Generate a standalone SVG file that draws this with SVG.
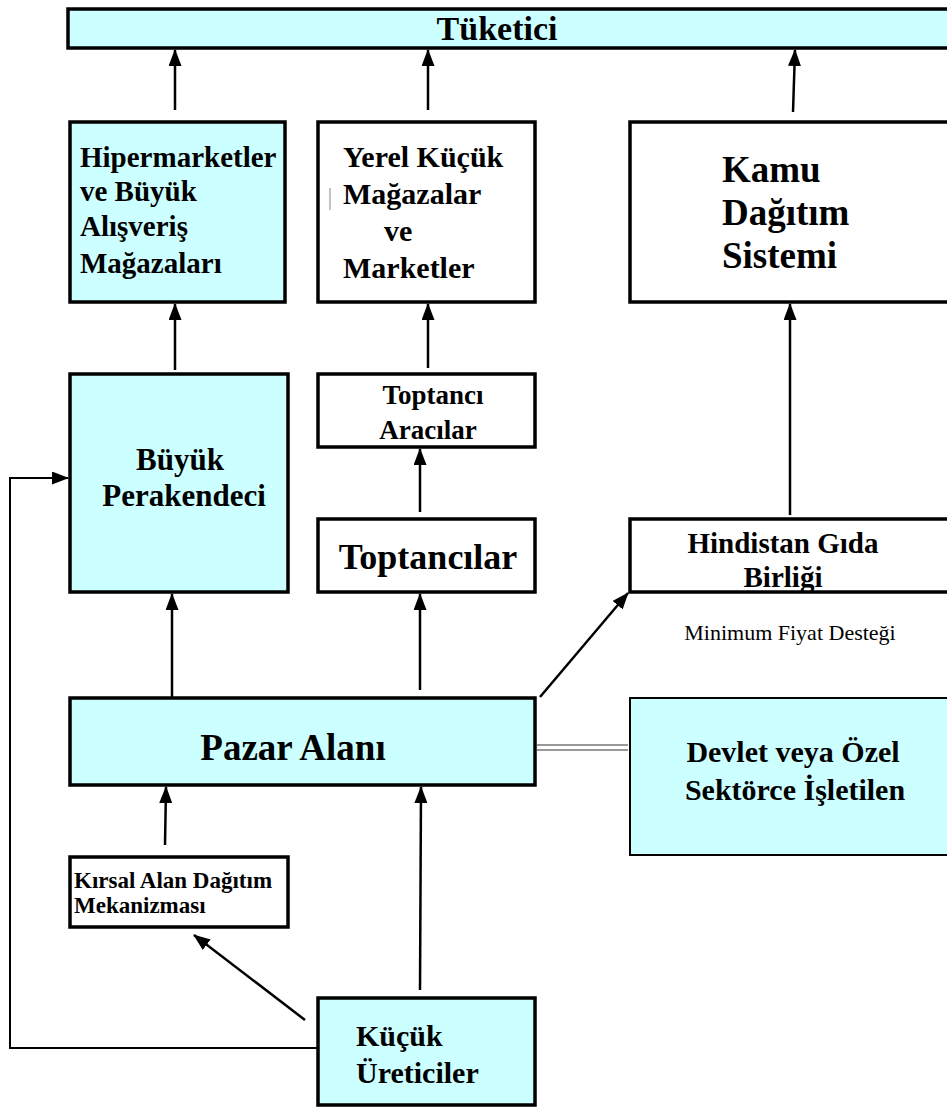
<svg xmlns="http://www.w3.org/2000/svg" width="947" height="1108" viewBox="0 0 947 1108">
<defs>
<style>
.box{stroke:#000;stroke-width:3.5}
.cy{fill:#CCFFFF}
.wh{fill:#fff}
.t{font-family:"Liberation Serif","Times New Roman",serif;font-weight:bold;fill:#000}
.n{font-family:"Liberation Serif","Times New Roman",serif;fill:#000}
.c{stroke:#000;stroke-width:2.5;fill:none}
</style>
<marker id="ah" viewBox="0 0 17 13" refX="16" refY="6.5" markerWidth="17" markerHeight="13" markerUnits="userSpaceOnUse" orient="auto">
<path d="M0,0 L17,6.5 L0,13 Z" fill="#000"/>
</marker>
</defs>
<rect width="947" height="1108" fill="#fff"/>
<g id="connectors">
<line class="c" x1="175" y1="110" x2="175" y2="50" marker-end="url(#ah)"/>
<line class="c" x1="428" y1="110" x2="428" y2="50" marker-end="url(#ah)"/>
<line class="c" x1="793" y1="112" x2="795" y2="50" marker-end="url(#ah)"/>
<line class="c" x1="175" y1="370" x2="175" y2="304" marker-end="url(#ah)"/>
<line class="c" x1="428" y1="368" x2="428" y2="304" marker-end="url(#ah)"/>
<line class="c" x1="790" y1="515" x2="790" y2="304" marker-end="url(#ah)"/>
<line class="c" x1="420" y1="512" x2="420" y2="449" marker-end="url(#ah)"/>
<line class="c" x1="172" y1="697" x2="172" y2="594" marker-end="url(#ah)"/>
<line class="c" x1="420" y1="690" x2="420" y2="594" marker-end="url(#ah)"/>
<line class="c" x1="540" y1="697" x2="628" y2="593" marker-end="url(#ah)"/>
<line class="c" x1="165" y1="845" x2="166" y2="787" marker-end="url(#ah)"/>
<line class="c" x1="420" y1="990" x2="421" y2="787" marker-end="url(#ah)"/>
<line class="c" x1="305" y1="1020" x2="194" y2="935" marker-end="url(#ah)"/>
<polyline points="318,1048 10,1048 10,478 68,478" stroke="#000" stroke-width="2" fill="none" marker-end="url(#ah)"/>
<line x1="537" y1="745" x2="628" y2="745" stroke="#999" stroke-width="2"/>
<line x1="537" y1="750" x2="628" y2="750" stroke="#999" stroke-width="2"/>
</g>
<g id="tuketici">
<rect class="box cy" x="68" y="9" width="885" height="39"/>
<text class="t" x="497" y="40" font-size="34" text-anchor="middle">Tüketici</text>
</g>
<g id="hipermarketler">
<rect class="box cy" x="70" y="122" width="215" height="180"/>
<text class="t" font-size="29"><tspan x="80" y="167">Hipermarketler</tspan><tspan x="80" y="201">ve Büyük</tspan><tspan x="80" y="236">Alışveriş</tspan><tspan x="80" y="273">Mağazaları</tspan></text>
</g>
<g id="yerel">
<rect class="box wh" x="318" y="122" width="217" height="180"/>
<line x1="330" y1="188" x2="330" y2="210" stroke="#888" stroke-width="1"/>
<text class="t" font-size="30"><tspan x="343" y="167">Yerel Küçük</tspan><tspan x="343" y="204">Mağazalar</tspan><tspan x="384" y="241">ve</tspan><tspan x="343" y="278">Marketler</tspan></text>
</g>
<g id="kamu">
<rect class="box wh" x="630" y="122" width="322" height="180"/>
<text class="t" font-size="37"><tspan x="722" y="182">Kamu</tspan><tspan x="722" y="225">Dağıtım</tspan><tspan x="722" y="268">Sistemi</tspan></text>
</g>
<g id="buyuk-perakendeci">
<rect class="box cy" x="70" y="374" width="218" height="218"/>
<text class="t" font-size="31" text-anchor="middle"><tspan x="180" y="470">Büyük</tspan><tspan x="184" y="506">Perakendeci</tspan></text>
</g>
<g id="toptanci-aracilar">
<rect class="box wh" x="318" y="374" width="217" height="73"/>
<text class="t" font-size="27" text-anchor="middle"><tspan x="433" y="404">Toptancı</tspan><tspan x="428" y="439">Aracılar</tspan></text>
</g>
<g id="toptancilar">
<rect class="box wh" x="318" y="519" width="217" height="73"/>
<text class="t" x="428" y="569" font-size="36" text-anchor="middle">Toptancılar</text>
</g>
<g id="hindistan">
<rect class="box wh" x="630" y="519" width="322" height="73"/>
<text class="t" font-size="29" text-anchor="middle"><tspan x="783" y="553">Hindistan Gıda</tspan><tspan x="783" y="587">Birliği</tspan></text>
</g>
<g id="minimum-fiyat">
<text class="n" x="790" y="640" font-size="22" text-anchor="middle">Minimum Fiyat Desteği</text>
</g>
<g id="pazar-alani">
<rect class="box cy" x="70" y="698" width="465" height="87"/>
<text class="t" x="293" y="760" font-size="37" text-anchor="middle">Pazar Alanı</text>
</g>
<g id="devlet">
<rect x="630" y="698" width="322" height="157" fill="#CCFFFF" stroke="#000" stroke-width="2"/>
<text class="t" font-size="30" text-anchor="middle"><tspan x="793" y="762">Devlet veya Özel</tspan><tspan x="795" y="800">Sektörce İşletilen</tspan></text>
</g>
<g id="kirsal">
<rect class="box wh" x="70" y="857" width="218" height="70"/>
<text class="t" font-size="23"><tspan x="74" y="888">Kırsal Alan Dağıtım</tspan><tspan x="74" y="913">Mekanizması</tspan></text>
</g>
<g id="kucuk-ureticiler">
<rect class="box cy" x="318" y="998" width="217" height="107"/>
<text class="t" font-size="30"><tspan x="356" y="1046">Küçük</tspan><tspan x="356" y="1083">Üreticiler</tspan></text>
</g>
</svg>
